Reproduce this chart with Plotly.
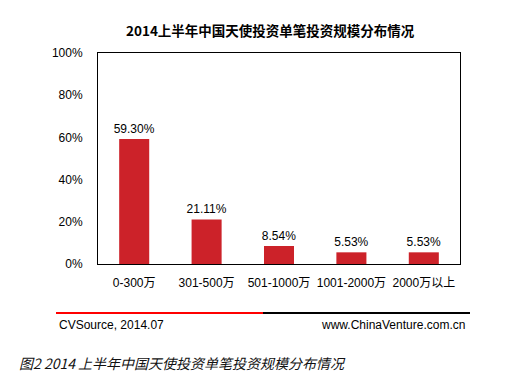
import plotly.graph_objects as go

categories = ["0-300万", "301-500万", "501-1000万", "1001-2000万", "2000万以上"]
values = [59.30, 21.11, 8.54, 5.53, 5.53]
labels = ["59.30%", "21.11%", "8.54%", "5.53%", "5.53%"]
tick_vals = [0, 20, 40, 60, 80, 100]
tick_text = ["0%", "20%", "40%", "60%", "80%", "100%"]

W, H = 508, 390
OFF = 8  # default page body margin
L, R, T, B = 98 - OFF, 460 - OFF, 53 - OFF, 264 - OFF

fig = go.Figure()
fig.add_trace(go.Bar(
    x=categories, y=values, text=labels, textposition="outside",
    textfont=dict(family="Liberation Sans, Arial", size=12, color="#000"),
    marker=dict(color="#CC2229", line=dict(width=0)),
    cliponaxis=False,
))

fig.update_layout(
    width=W, height=H,
    margin=dict(l=L, r=W - R, t=T, b=H - B, pad=0),
    paper_bgcolor="white", plot_bgcolor="white",
    bargap=0.585,
    showlegend=False,
    font=dict(family="Liberation Sans, Arial, Noto Sans CJK SC", size=12, color="#000"),
    xaxis=dict(showline=True, linecolor="#000", linewidth=1, mirror=True,
               ticks="", showgrid=False, ticklabelstandoff=8,
               tickfont=dict(family="Liberation Sans, Noto Sans CJK SC", size=12)),
    yaxis=dict(range=[0, 100], tickvals=tick_vals, ticktext=tick_text,
               showline=True, linecolor="#000", linewidth=1, mirror=True,
               ticks="", showgrid=False, ticklabelstandoff=12,
               tickfont=dict(family="Liberation Sans, Arial", size=12)),
    uniformtext=dict(minsize=12, mode="show"),
)

def py(yp):
    return (B - (yp - OFF)) / (B - T)

def px(xp):
    return ((xp - OFF) - L) / (R - L)

fig.add_annotation(text="<b>2014上半年中国天使投资单笔投资规模分布情况</b>",
                   xref="paper", yref="paper", x=px(270), y=py(30),
                   xanchor="center", yanchor="middle", showarrow=False,
                   font=dict(family="Noto Sans CJK SC", size=13.5, color="#000"))

fig.add_shape(type="line", xref="paper", yref="paper", x0=px(56), x1=px(263), y0=py(313), y1=py(313),
              line=dict(color="#FF0000", width=2))
fig.add_shape(type="line", xref="paper", yref="paper", x0=px(263), x1=px(470), y0=py(313), y1=py(313),
              line=dict(color="#000000", width=2))
fig.add_annotation(text="CVSource, 2014.07", xref="paper", yref="paper", x=px(57), y=py(325),
                   xanchor="left", yanchor="middle", showarrow=False,
                   font=dict(family="Liberation Sans, Arial", size=12, color="#000"))
fig.add_annotation(text="www.ChinaVenture.com.cn", xref="paper", yref="paper", x=px(467), y=py(325),
                   xanchor="right", yanchor="middle", showarrow=False,
                   font=dict(family="Liberation Sans, Arial", size=12, color="#000"))
fig.add_annotation(text="<i>图2 2014 上半年中国天使投资单笔投资规模分布情况</i>", xref="paper", yref="paper",
                   x=px(17), y=py(363), xanchor="left", yanchor="middle", showarrow=False,
                   font=dict(family="Noto Sans CJK SC", size=14, color="#111"))

fig.write_html("out.html")
